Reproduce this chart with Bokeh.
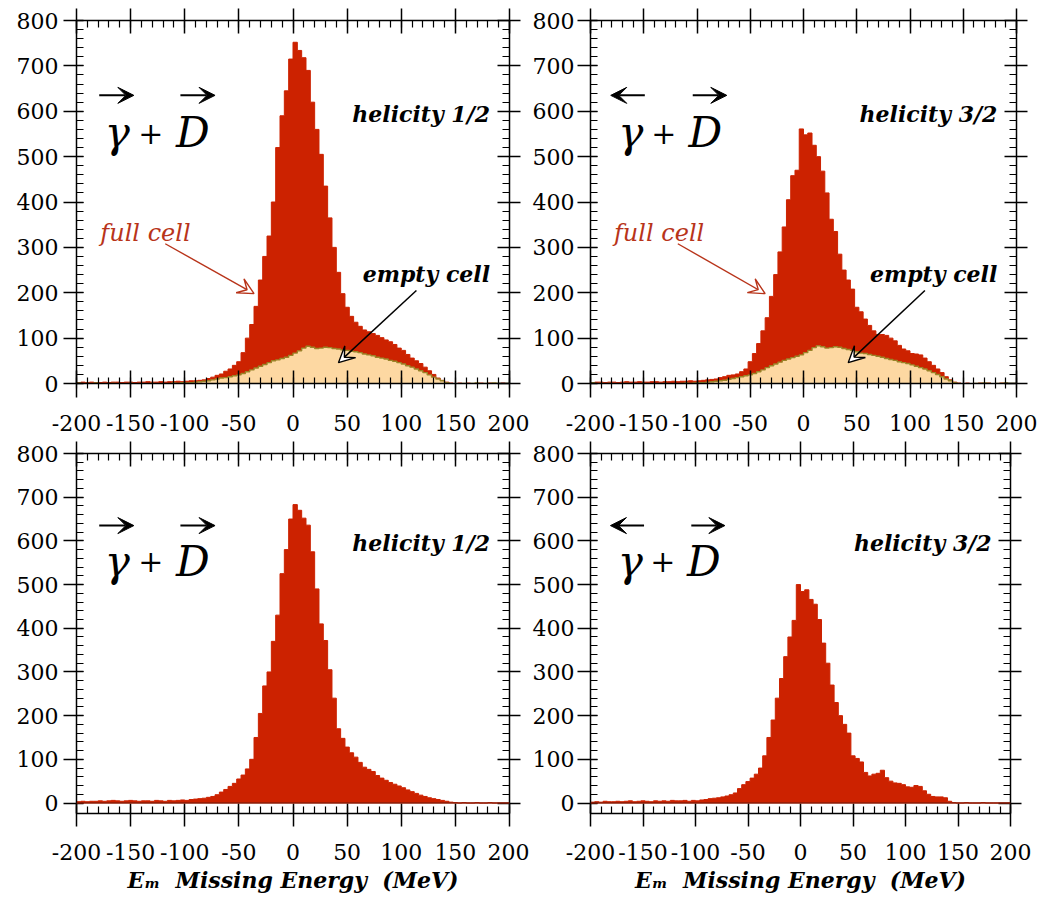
import numpy as np
from bokeh.plotting import figure
from bokeh.layouts import column, row
from bokeh.models import (LinearAxis, FixedTicker, Range1d, Label, Arrow, VeeHead,
                          Span, ColumnDataSource, CustomLabelingPolicy)
from bokeh.embed import file_html
from bokeh.resources import INLINE

# ---------------- data ----------------
BIN_LEFT = list(range(-200, 200, 4))          # 4 MeV bins, -200 .. 200
BIN_WIDTH = 4

X_TICKS = [-200, -150, -100, -50, 0, 50, 100, 150, 200]
X_MINOR = list(range(-200, 201, 10))
Y_TICKS = [0, 100, 200, 300, 400, 500, 600, 700, 800]
Y_MINOR = list(range(0, 801, 20))

# helicity 1/2, full cell (top-left)
TL_FULL = [2, 3, 2, 3, 2, 2, 3, 2, 3, 3, 2, 3, 3, 2, 3, 3, 4, 3, 3, 4, 3, 4, 4, 5, 4, 5, 6, 6,
           7, 8, 11, 14, 18, 21, 27, 32, 40, 48,
           68, 100, 130, 170, 228, 280, 325, 400, 520, 590,
           645, 715, 752, 734, 718, 690, 620, 560, 505, 435,
           365, 300, 245, 198, 168, 148, 135, 126, 118, 114,
           110, 106, 101, 96, 92, 86, 78, 73, 64, 56,
           50, 44, 36, 28, 20, 12, 7, 3, 1,
           0, 1, 0, 1, 0, 0, 1, 0, 1, 0, 0, 1, 0]
# helicity 1/2, empty cell (top-left)
TL_EMPTY = [1, -2, 0, -3, 1, -1, -3, -2, 0, -3, -3, -2, 0, -2, -3, -3, -1, 0, -2, -3, -3, -1, 1, 0, 2, 1, 2, 3,
            4, 5, 6, 8, 10, 12, 13, 15, 17, 19,
            22, 26, 30, 34, 38, 42, 46, 50, 52, 55,
            58, 62, 67, 72, 78, 82, 80, 77, 78, 80,
            79, 77, 76, 74, 73, 71, 70, 68, 65, 63,
            61, 58, 56, 54, 51, 49, 46, 43, 39, 36,
            32, 28, 24, 19, 14, 10, 6, 2, -3,
            -4, -2, 0, -1, 0, 1, -1, 0, 0, 1, 0, -1, 0]
# helicity 3/2, full cell (top-right)
TR_FULL = [2, 3, 3, 2, 3, 3, 2, 3, 4, 3, 3, 4, 3, 3, 4, 4, 3, 4, 4, 5, 4, 5, 5, 6, 5, 6, 7, 8,
           9, 10, 13, 15, 18, 19, 21, 26, 32, 48,
           66, 88, 116, 145, 192, 240, 290, 345, 405, 458,
           470, 561, 548, 552, 525, 500, 468, 420, 362, 335,
           285, 250, 228, 208, 168, 158, 142, 128, 116, 108,
           108, 106, 100, 94, 84, 76, 72, 66, 65, 63,
           56, 48, 40, 32, 24, 15, 8, 3, 1,
           0, 1, 0, 0, 1, 0, 1, 0, 0, 1, 0, 0, 0]
# helicity 3/2, empty cell (top-right)
TR_EMPTY = [2, -1, 0, -3, 0, -2, -3, -1, 0, -3, -2, -3, 0, -1, -3, -2, -1, 0, -3, -2, -2, 0, 1, 0, 1, 2, 2, 3,
            4, 5, 6, 7, 9, 11, 13, 15, 17, 19,
            22, 26, 30, 35, 39, 43, 47, 51, 54, 57,
            60, 63, 68, 73, 79, 83, 81, 78, 79, 81,
            80, 77, 75, 73, 70, 67, 66, 64, 62, 60,
            58, 55, 53, 51, 48, 46, 44, 41, 38, 35,
            32, 28, 24, 20, 15, 10, 6, 2, -3,
            -4, -2, -1, 0, 0, 1, 0, -1, 0, 0, 1, 0, 0]
# helicity 1/2, subtracted (bottom-left)
BL_FULL = [3, 4, 3, 4, 4, 5, 4, 5, 6, 5, 4, 5, 6, 5, 4, 5, 5, 4, 6, 5, 4, 6, 5, 6, 7, 6, 8, 9,
           10, 11, 13, 15, 19, 25, 31, 38, 45, 55,
           64, 78, 100, 150, 205, 268, 300, 370, 430, 525,
           580, 650, 683, 670, 652, 636, 575, 490, 410, 372,
           305, 240, 170, 148, 128, 115, 105, 93, 82, 77,
           72, 63, 57, 52, 47, 43, 39, 35, 30, 26,
           22, 18, 15, 12, 10, 8, 6, 4, 2,
           1, 0, 1, 0, 0, 1, 0, 0, 1, 0, 0, 0, 0]
# helicity 3/2, subtracted (bottom-right)
BR_FULL = [2, 3, 2, 4, 3, 3, 4, 3, 4, 5, 3, 4, 5, 4, 3, 5, 4, 5, 4, 6, 5, 5, 6, 4, 6, 5, 7, 8,
           10, 11, 12, 14, 16, 19, 23, 33, 42, 49,
           57, 66, 80, 108, 150, 190, 240, 285, 335, 380,
           418, 500, 484, 488, 466, 455, 420, 366, 320, 270,
           230, 200, 180, 160, 108, 102, 94, 70, 62, 66,
           68, 75, 58, 50, 46, 45, 42, 37, 36, 40,
           38, 28, 20, 15, 14, 14, 12, 4, 1,
           0, 0, 1, 0, 0, 0, 1, 0, 0, 0, 0, 0, 0]

RED = "#cc2200"
PEACH = "#fdd8a2"
OLIVE = "#9a8428"
TEXT_RED = "#b8341a"
SERIF = "DejaVu Serif"
NB = "\u00a0"


def style_axis(ax, ticks, minor, t_in, t_out, m_in, m_out, labels):
    ax.ticker = FixedTicker(ticks=ticks, minor_ticks=minor)
    ax.axis_line_width = 1.5
    ax.axis_line_color = "black"
    ax.major_tick_line_width = 1.5
    ax.major_tick_line_color = "black"
    ax.minor_tick_line_width = 1.2
    ax.minor_tick_line_color = "black"
    ax.major_tick_in = t_in
    ax.major_tick_out = t_out
    ax.minor_tick_in = m_in
    ax.minor_tick_out = m_out
    if labels:
        ax.major_label_text_font = SERIF
        ax.major_label_text_font_size = "22px"
        ax.major_label_text_color = "black"
        ax.major_label_overrides = {t: str(t) for t in ticks}
    else:
        ax.major_label_policy = CustomLabelingPolicy(code="return []")
        ax.major_label_text_font_size = "0px"
        ax.major_label_standoff = 0


def add_text(p, x, y, text, size, style, color="black", align="left"):
    p.add_layout(Label(x=x, y=y, text=text, text_font=SERIF, text_font_size=size,
                       text_font_style=style, text_color=color, text_align=align,
                       text_baseline="alphabetic"))


def make_panel(full, empty, hel, gamma_left, bottom_row, fw, bl, br, ystandoff):
    ylo = -24 if bottom_row else 0
    fh = 360 if bottom_row else 363
    p = figure(frame_width=fw, frame_height=fh,
               x_range=Range1d(-200, 200), y_range=Range1d(ylo, 800),
               output_backend="svg", toolbar_location=None,
               min_border_left=bl, min_border_right=br,
               min_border_top=17 if bottom_row else 20,
               min_border_bottom=88 if bottom_row else 53,
               x_axis_location=None, y_axis_location=None)
    p.outline_line_color = None
    p.background_fill_color = "white"
    p.border_fill_color = "white"
    p.grid.visible = False

    # step-area histograms: bin left edges plus the closing right edge
    edges = list(BIN_LEFT) + [BIN_LEFT[-1] + BIN_WIDTH]
    data = dict(x=edges, full=list(full) + [full[-1]])
    if empty is not None:
        data["empty"] = list(empty) + [empty[-1]]
    src = ColumnDataSource(data)

    p.varea_step(x="x", y1=0, y2="full", step_mode="after", source=src,
                 fill_color=RED)
    p.step(x="x", y="full", mode="after", source=src, line_color=RED, line_width=1)
    if empty is not None:
        p.varea_step(x="x", y1=0, y2="empty", step_mode="after", source=src,
                     fill_color=PEACH)
        p.step(x="x", y="empty", mode="after", source=src,
               line_color=OLIVE, line_width=1.4)
    if bottom_row:
        p.add_layout(Span(location=0, dimension="width", line_color="#8a1c08",
                          line_width=1.5))

    # axes
    below = LinearAxis()
    if bottom_row:
        style_axis(below, X_TICKS, X_MINOR, 10, 13, 7, 0, True)
        below.major_label_standoff = 17
        below.axis_label = "E\u2098" + NB * 2 + "Missing Energy" + NB * 2 + "(MeV)"
        below.axis_label_text_font = SERIF
        below.axis_label_text_font_size = "22px"
        below.axis_label_text_font_style = "bold italic"
        below.axis_label_text_color = "black"
        below.axis_label_standoff = 4
    else:
        style_axis(below, X_TICKS, X_MINOR, 13, 14, 6, 5, True)
        below.major_label_standoff = 17
    p.add_layout(below, "below")

    above = LinearAxis()
    style_axis(above, X_TICKS, X_MINOR, 13, 12, 7, 0, False)
    p.add_layout(above, "above")

    lax = LinearAxis()
    style_axis(lax, Y_TICKS, Y_MINOR, 7, 13, 7, 0, True)
    lax.major_label_standoff = ystandoff
    p.add_layout(lax, "left")

    rax = LinearAxis()
    style_axis(rax, Y_TICKS, Y_MINOR, 12, 11, 7, 0, False)
    p.add_layout(rax, "right")

    # gamma + D with polarisation arrows
    add_text(p, -174, 553, "γ", "42px", "italic")
    add_text(p, -143, 553, "+", "30px", "normal")
    add_text(p, -108, 553, "D", "42px", "italic")
    if gamma_left:
        gx0, gx1 = -149, -181
    else:
        gx0, gx1 = -179, -147
    p.add_layout(Arrow(end=VeeHead(size=16, fill_color="black", line_color="black"),
                       x_start=gx0, y_start=635, x_end=gx1, y_end=635,
                       line_color="black", line_width=2))
    p.add_layout(Arrow(end=VeeHead(size=16, fill_color="black", line_color="black"),
                       x_start=-104, y_start=635, x_end=-72, y_end=635,
                       line_color="black", line_width=2))

    add_text(p, 182, 595, hel, "22px", "bold italic", align="right")

    if empty is not None:
        add_text(p, -178, 331, "full cell", "24px", "italic", color=TEXT_RED)
        p.add_layout(Arrow(end=VeeHead(size=16, fill_color="white", line_color=TEXT_RED,
                                       line_width=1.4),
                           x_start=-118, y_start=308, x_end=-36, y_end=198,
                           line_color=TEXT_RED, line_width=1.4))
        add_text(p, 182, 242, "empty cell", "22px", "bold italic", align="right")
        p.add_layout(Arrow(end=VeeHead(size=16, fill_color="white", line_color="black",
                                       line_width=1.4),
                           x_start=114, y_start=205, x_end=42, y_end=46,
                           line_color="black", line_width=1.5))
    return p


tl = make_panel(TL_FULL, TL_EMPTY, "helicity 1/2", False, False, 433, 76, 20, 5)
tr = make_panel(TR_FULL, TR_EMPTY, "helicity 3/2", True, False, 426, 58, 24, 3)
bl = make_panel(BL_FULL, None, "helicity 1/2", False, True, 433, 76, 20, 5)
br = make_panel(BR_FULL, None, "helicity 3/2", True, True, 420, 58, 24, 3)

layout = column(row(tl, tr), row(bl, br))
open("out.html", "w").write(file_html(layout, INLINE))
